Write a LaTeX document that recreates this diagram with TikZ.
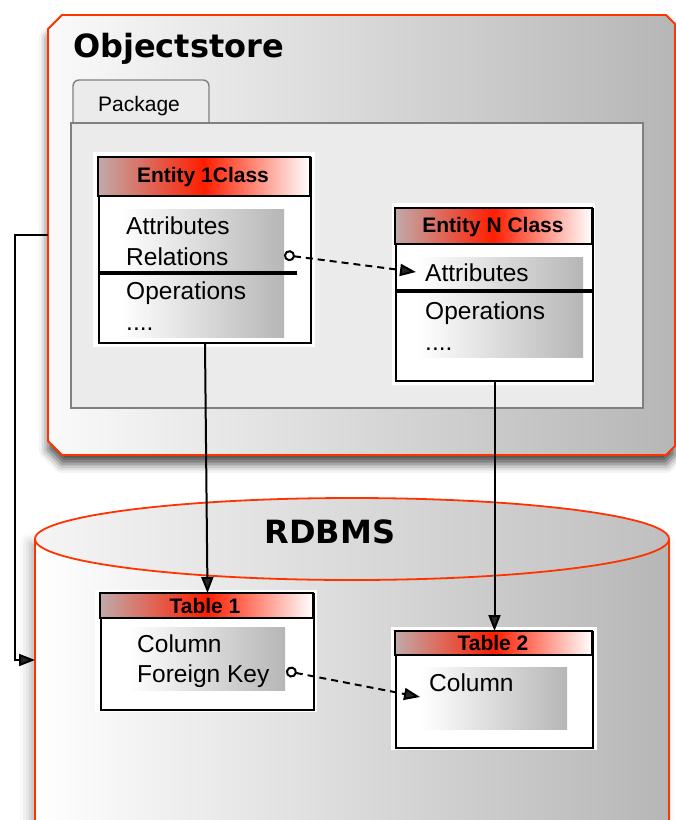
\documentclass[tikz,border=0pt]{standalone}
\usepackage{fontspec}
\setmainfont{Liberation Sans}
\newfontfamily\titlefont{DejaVu Sans}
\usepackage{tikz}
\usetikzlibrary{arrows.meta,positioning,shadows.blur}

\definecolor{storered}{RGB}{255,51,0}
\definecolor{headred}{RGB}{255,30,0}
\definecolor{headgray}{RGB}{192,170,170}
\definecolor{pkggray}{RGB}{235,235,235}
\definecolor{pkgline}{RGB}{128,128,128}
\definecolor{fadegray}{RGB}{182,182,182}

\tikzset{
  storeframe/.style={draw=storered, line width=1.8pt, left color=black!2, right color=fadegray},
  pkgframe/.style={draw=pkgline, line width=1.4pt, fill=pkggray},
  whiteframe/.style={fill=white, draw=none},
  classbox/.style={draw=black, line width=2pt, fill=white, inner sep=0pt, anchor=north west},
  headshade/.style={left color=headgray, right color=white, middle color=headred},
  fadebox/.style={left color=white, right color=fadegray, draw=none},
  headtext/.style={font=\bfseries\fontsize{21}{25}\selectfont, inner sep=0pt},
  attrtext/.style={font=\fontsize{24.5}{28}\selectfont, inner sep=0pt, anchor=base west},
  bigtitle/.style={font=\titlefont\bfseries\fontsize{32}{38}\selectfont, inner sep=0pt},
  conn/.style={line width=2pt, -{Triangle[length=16pt,width=12pt]}},
  refconn/.style={line width=2pt, dash pattern=on 7pt off 5pt, {Circle[open,length=11pt,width=11pt,line width=2pt]}-{Triangle[length=16pt,width=12pt]}},
}

\begin{document}
\begin{tikzpicture}[x=1pt,y=-1pt]
  \useasboundingbox (0,0) rectangle (676,820);
  \clip (0,0) rectangle (676,820);

  % Objectstore frame with cut corners
  \draw[storeframe, blur shadow={shadow xshift=0pt, shadow yshift=-9pt, shadow blur radius=9pt, shadow opacity=70}]
    (62,15) -- (666,15) -- (675,24) -- (675,446) -- (666,455) -- (62,455) -- (48,441) -- (48,29) -- cycle;
  \coordinate (osleft) at (48,235);
  \node[bigtitle, anchor=base west] (ostitle) at (73,57) {Objectstore};

  % Package tab and body
  \draw[pkgframe, rounded corners=6pt] (73,123) -- (73,80) -- (209,80) -- (209,123);
  \node[font=\fontsize{21}{25}\selectfont, inner sep=0pt, anchor=base west] (pkgname) at (98,111) {Package};
  \draw[pkgframe] (71,123) rectangle (643,408);

  % RDBMS cylinder
  \path[left color=white, right color=fadegray, blur shadow={shadow xshift=-5pt, shadow yshift=-4pt, shadow blur radius=10pt, shadow opacity=30}]
    (35,539) -- (35,840) -- (669,840) -- (669,539) -- cycle;
  \draw[storered, line width=1.8pt] (35,539) -- (35,840);
  \draw[storered, line width=1.8pt] (669,539) -- (669,840);
  \draw[draw=storered, line width=1.8pt, left color=black!4, right color=black!25] (352,539) ellipse [x radius=317, y radius=41];
  \coordinate (dbleft) at (35,660);
  \node[bigtitle, anchor=base] (dbtitle) at (330,543) {RDBMS};

  % Entity 1Class
  \fill[whiteframe] (93,152) rectangle (315,347);
  \node[classbox, minimum width=212, minimum height=185] (ent1) at (98,157) {};
  \draw[headshade, line width=1.8pt] (98,157) rectangle (310,196);
  \node[headtext] (ent1name) at (203,177) {Entity 1Class};
  \fill[fadebox] (120,209) rectangle (284,337);
  \node[attrtext] (ent1attr) at (126,234) {Attributes};
  \node[attrtext] (ent1rel) at (126,265) {Relations};
  \node[attrtext] (ent1ops) at (126,299) {Operations};
  \node[attrtext] (ent1dots) at (126,330) {....};
  \draw[line width=3.5pt] (98,273) -- (297,273);
  \coordinate (ent1ref) at (284,255);

  % Entity N Class
  \fill[whiteframe] (392,203) rectangle (595,385);
  \node[classbox, minimum width=197, minimum height=172] (entN) at (395,208) {};
  \draw[headshade, line width=1.8pt] (395,208) rectangle (592,244);
  \node[headtext] (entNname) at (493,227) {Entity N Class};
  \fill[fadebox] (418,257) rectangle (583,357);
  \node[attrtext] (entNattr) at (425,281) {Attributes};
  \node[attrtext] (entNops) at (425,319) {Operations};
  \node[attrtext] (entNdots) at (425,350) {....};
  \draw[line width=3.5pt] (395,291) -- (592,291);
  \coordinate (entNin) at (416,272);

  % Table 1
  \fill[whiteframe] (95,590) rectangle (317,712);
  \node[classbox, minimum width=213, minimum height=116] (tab1) at (100,593) {};
  \draw[headshade, line width=1.8pt] (100,593) rectangle (313,618);
  \node[headtext] (tab1name) at (205,606) {Table 1};
  \fill[fadebox] (128,627) rectangle (285,690);
  \node[attrtext] (tab1col) at (137,652) {Column};
  \node[attrtext] (tab1fk) at (137,682) {Foreign Key};
  \coordinate (tab1ref) at (286,671);

  % Table 2
  \fill[whiteframe] (391,627) rectangle (597,750);
  \node[classbox, minimum width=197, minimum height=116] (tab2) at (395,631) {};
  \draw[headshade, line width=1.8pt] (395,631) rectangle (592,655);
  \node[headtext] (tab2name) at (493,643) {Table 2};
  \fill[fadebox] (420,667) rectangle (567,729);
  \node[attrtext] (tab2col) at (429,691) {Column};
  \coordinate (tab2in) at (420,697);

  % Connectors
  \draw[conn] (ent1.south) -- (tab1.north);
  \draw[conn] (entN.south) -- (tab2.north);
  \draw[refconn] (ent1ref) -- (entNin);
  \draw[refconn] (tab1ref) -- (tab2in);
  \draw[conn] (osleft) -- ++(-33,0) |- (dbleft);
\end{tikzpicture}
\end{document}
